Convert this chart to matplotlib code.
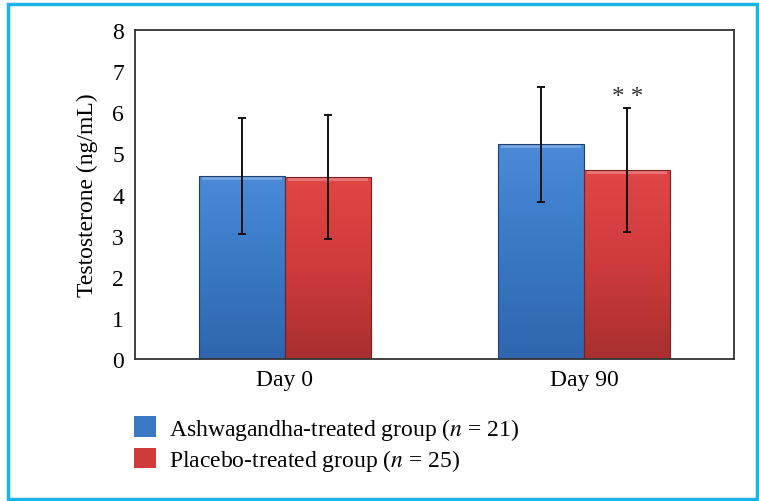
import numpy as np
import matplotlib
matplotlib.use("Agg")
import matplotlib.pyplot as plt
from matplotlib.patches import Patch, Rectangle
from matplotlib.colors import LinearSegmentedColormap

plt.rcParams['font.family'] = ['Liberation Serif', 'DejaVu Serif']
plt.rcParams['mathtext.fontset'] = 'stix'

# =========================================
# Data
# =========================================

days = ["Day 0", "Day 90"]
groups = ["Ashwagandha-treated group ($n$ = 21)", "Placebo-treated group ($n$ = 25)"]

ashwa_mean = [4.45, 5.22]
ashwa_sd = [1.42, 1.40]

placebo_mean = [4.43, 4.60]
placebo_sd = [1.50, 1.50]

yticks = [0, 1, 2, 3, 4, 5, 6, 7, 8]

# =========================================
# Styles
# =========================================

blue_ramp = ["#4a8ad6", "#3a78c4", "#2f66ae"]
red_ramp = ["#e24646", "#cf3b3b", "#a82f2f"]
blue_edge = "#1f3f73"
red_edge = "#7a2020"

fig = plt.figure(figsize=(7.59, 5.02), dpi=100)
ax = fig.add_axes([0.1779, 0.2829, 0.7891, 0.6553])

x = np.arange(len(days))
w = 0.287


def gradient_bars(xs, means, ramp, edge):
    bars = ax.bar(xs, means, w, color="none", edgecolor=edge, linewidth=0.8, zorder=3)
    cmap = LinearSegmentedColormap.from_list("g", ramp[::-1])
    grad = np.linspace(0, 1, 256).reshape(-1, 1)
    for b in bars:
        x0, y0 = b.get_x(), b.get_y()
        bw, bh = b.get_width(), b.get_height()
        im = ax.imshow(grad, cmap=cmap, aspect="auto", origin="lower",
                       extent=[x0, x0 + bw, y0, y0 + bh], zorder=2)
        im.set_clip_path(b)
        # bevel highlight on top
        ax.add_patch(Rectangle((x0 + 0.01, y0 + bh - 0.09), bw - 0.02, 0.09,
                               facecolor="white", alpha=0.25, linewidth=0, zorder=2.5))
    return bars


gradient_bars(x - w / 2, ashwa_mean, blue_ramp, blue_edge)
gradient_bars(x + w / 2, placebo_mean, red_ramp, red_edge)

ax.errorbar(x - w / 2, ashwa_mean, yerr=ashwa_sd, fmt="none", ecolor="#111111",
            elinewidth=1.4, capsize=3, capthick=1.4, zorder=4)
ax.errorbar(x + w / 2, placebo_mean, yerr=placebo_sd, fmt="none", ecolor="#111111",
            elinewidth=1.4, capsize=3, capthick=1.4, zorder=4)

# significance mark over Day 90 placebo
ax.text(x[1] + w / 2, placebo_mean[1] + placebo_sd[1] + 0.27, "* *",
        ha="center", va="center", fontsize=18, color="#333333")

ax.set_xlim(-0.5, 1.5)
ax.set_ylim(0, 8)
ax.set_yticks(yticks)
ax.set_xticks(x)
ax.set_xticklabels(days)
ax.tick_params(axis="both", length=0, labelsize=17, pad=8)
ax.tick_params(axis="x", pad=7)
ax.set_ylabel("Testosterone (ng/mL)", fontsize=17, labelpad=10)

for s in ax.spines.values():
    s.set_color("#333333")
    s.set_linewidth(1.3)

handles = [Patch(facecolor=blue_ramp[1], edgecolor="none"),
           Patch(facecolor=red_ramp[1], edgecolor="none")]
fig.legend(handles, groups, loc="upper left", bbox_to_anchor=(0.176, 0.170),
           frameon=False, fontsize=17, handlelength=0.95, handleheight=0.95,
           handletextpad=0.55, labelspacing=0.22, borderaxespad=0, borderpad=0)

# cyan frame round the figure
fig.patches.append(Rectangle((0.011, 0.003), 0.986, 0.988, transform=fig.transFigure,
                             fill=False, edgecolor="#1cb4e8", linewidth=2.5))

fig.savefig("out.png", dpi=100)
